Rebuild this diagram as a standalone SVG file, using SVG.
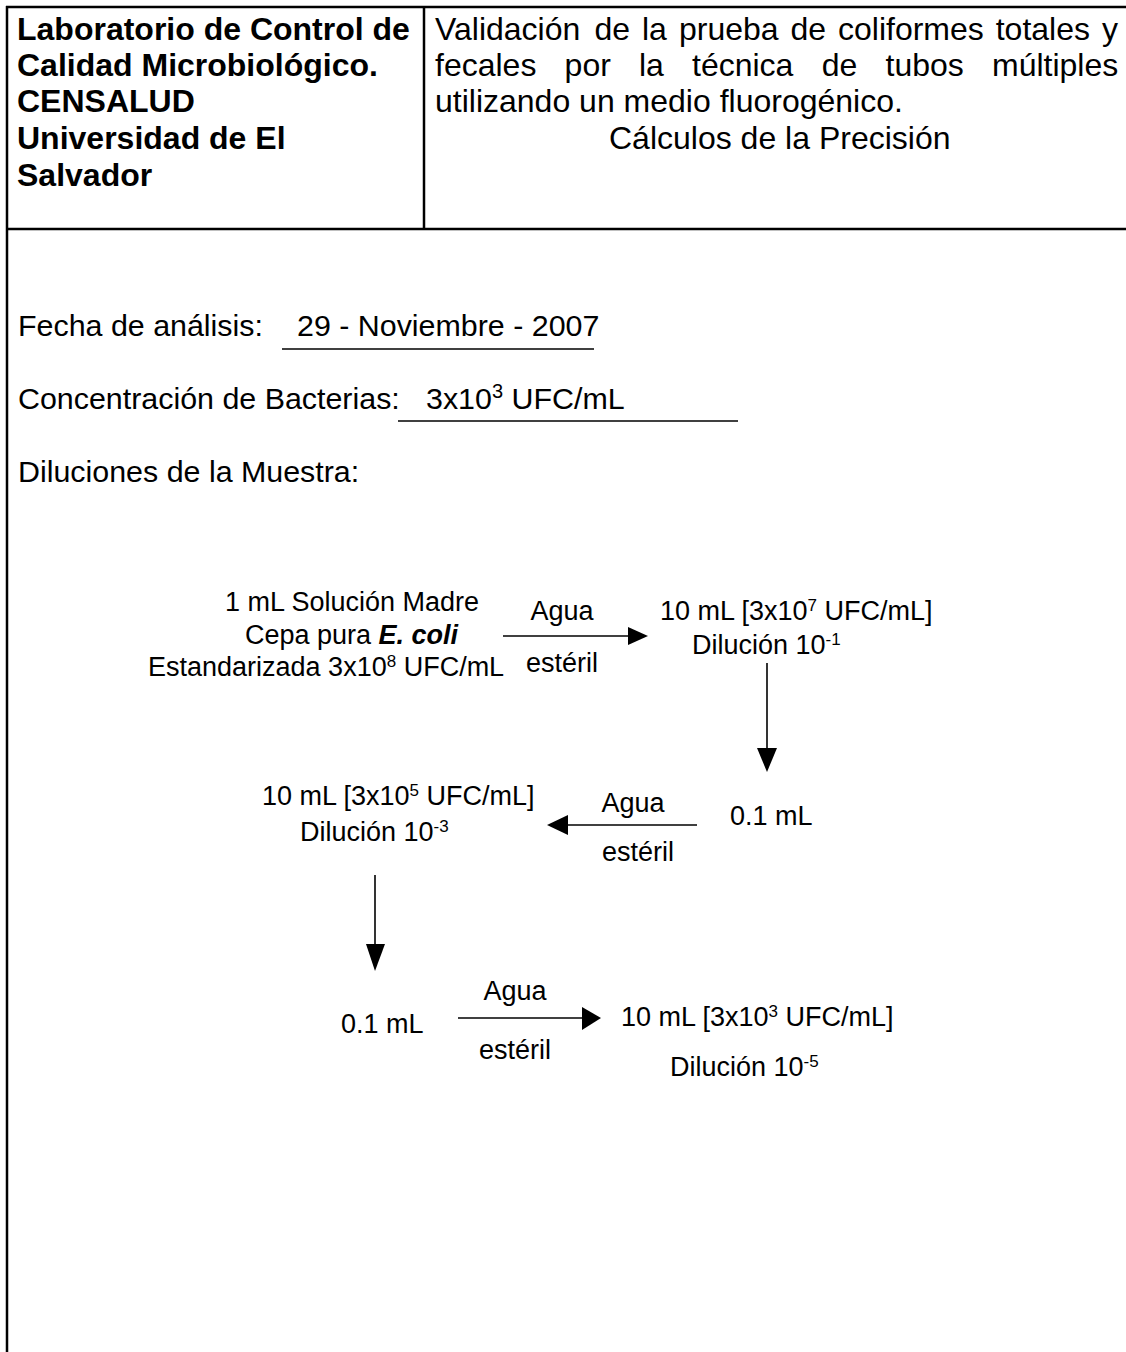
<svg xmlns="http://www.w3.org/2000/svg" width="1126" height="1352" viewBox="0 0 1126 1352">
<style>
.frame{stroke:#000;stroke-width:2.5;fill:none}
.hb{font-family:"Liberation Sans",Arial,sans-serif;font-size:32px;font-weight:bold;fill:#000}
.hr{font-family:"Liberation Sans",Arial,sans-serif;font-size:32px;fill:#000}
.b{font-family:"Liberation Sans",Arial,sans-serif;font-size:30.4px;fill:#000}
.d{font-family:"Liberation Sans",Arial,sans-serif;font-size:27px;fill:#000}
.mid{text-anchor:middle}
.sup{font-size:17px}
.sups{font-size:20px}
.edge{stroke:#000;stroke-width:1.6;fill:none}
.head{fill:#000}
.ul{stroke:#000;stroke-width:1.6}
</style>
<rect width="1126" height="1352" fill="#fff"/>
<g id="frame">
<line class="frame" x1="6" y1="7" x2="1126" y2="7"/>
<line class="frame" x1="7" y1="6" x2="7" y2="1352"/>
<line class="frame" x1="424" y1="7" x2="424" y2="229"/>
<line class="frame" x1="6" y1="229" x2="1126" y2="229"/>
</g>
<g id="header-left">
<text class="hb" x="17" y="40">Laboratorio de Control de</text>
<text class="hb" x="17" y="76">Calidad Microbiológico.</text>
<text class="hb" x="17" y="112">CENSALUD</text>
<text class="hb" x="17" y="149">Universidad de El</text>
<text class="hb" x="17" y="186">Salvador</text>
</g>
<g id="header-right">
<text class="hr" y="40"><tspan x="435">Validación</tspan><tspan x="594.5">de</tspan><tspan x="642">la</tspan><tspan x="679">prueba</tspan><tspan x="790.5">de</tspan><tspan x="838">coliformes</tspan><tspan x="995.7">totales</tspan><tspan x="1102">y</tspan></text>
<text class="hr" y="76"><tspan x="435">fecales</tspan><tspan x="564.6">por</tspan><tspan x="639">la</tspan><tspan x="692">técnica</tspan><tspan x="821.7">de</tspan><tspan x="885.5">tubos</tspan><tspan x="992">múltiples</tspan></text>
<text class="hr" x="435" y="112">utilizando un medio fluorogénico.</text>
<text class="hr" x="609" y="149">Cálculos de la Precisión</text>
</g>
<g id="fields">
<text class="b" x="18" y="336">Fecha de análisis:</text>
<text class="b" x="297" y="336">29 - Noviembre - 2007</text>
<line class="ul" x1="282" y1="349" x2="594" y2="349"/>
<text class="b" x="18" y="409">Concentración de Bacterias:</text>
<text class="b" x="426" y="409">3x10<tspan class="sups" dy="-11">3</tspan><tspan dy="11"> UFC/mL</tspan></text>
<line class="ul" x1="398" y1="421" x2="738" y2="421"/>
<text class="b" x="18" y="482">Diluciones de la Muestra:</text>
</g>
<g id="connectors">
<line class="edge" x1="503" y1="636" x2="630" y2="636"/>
<polygon class="head" points="648,636 628,627 628,645"/>
<text class="d mid" x="562" y="620">Agua</text>
<text class="d mid" x="562" y="672">estéril</text>
<line class="edge" x1="767" y1="663" x2="767" y2="750"/>
<polygon class="head" points="767,772 757,748 777,748"/>
<line class="edge" x1="697" y1="825" x2="566" y2="825"/>
<polygon class="head" points="547,825 568,815 568,835"/>
<text class="d mid" x="633" y="812">Agua</text>
<text class="d mid" x="638" y="861">estéril</text>
<line class="edge" x1="375" y1="875" x2="375" y2="946"/>
<polygon class="head" points="375,971 366,944 385,944"/>
<line class="edge" x1="458" y1="1018" x2="584" y2="1018"/>
<polygon class="head" points="601,1018 582,1007 582,1030"/>
<text class="d mid" x="515" y="1000">Agua</text>
<text class="d mid" x="515" y="1059">estéril</text>
</g>
<g id="n1">
<text class="d" x="225" y="611">1 mL Solución Madre</text>
<text class="d" x="245" y="644">Cepa pura <tspan font-weight="bold" font-style="italic">E. coli</tspan></text>
<text class="d" x="148" y="676">Estandarizada 3x10<tspan class="sup" dy="-9">8</tspan><tspan dy="9"> UFC/mL</tspan></text>
</g>
<g id="n2">
<text class="d" x="660" y="620">10 mL  [3x10<tspan class="sup" dy="-9">7</tspan><tspan dy="9"> UFC/mL]</tspan></text>
<text class="d" x="692" y="654">Dilución 10<tspan class="sup" dy="-9">-1</tspan></text>
</g>
<g id="n3">
<text class="d" x="730" y="825">0.1 mL</text>
</g>
<g id="n4">
<text class="d" x="262" y="805">10 mL [3x10<tspan class="sup" dy="-9">5</tspan><tspan dy="9"> UFC/mL]</tspan></text>
<text class="d" x="300" y="841">Dilución 10<tspan class="sup" dy="-9">-3</tspan></text>
</g>
<g id="n5">
<text class="d" x="341" y="1033">0.1 mL</text>
</g>
<g id="n6">
<text class="d" x="621" y="1026">10 mL [3x10<tspan class="sup" dy="-9">3</tspan><tspan dy="9"> UFC/mL]</tspan></text>
<text class="d" x="670" y="1076">Dilución 10<tspan class="sup" dy="-9">-5</tspan></text>
</g>
</svg>
